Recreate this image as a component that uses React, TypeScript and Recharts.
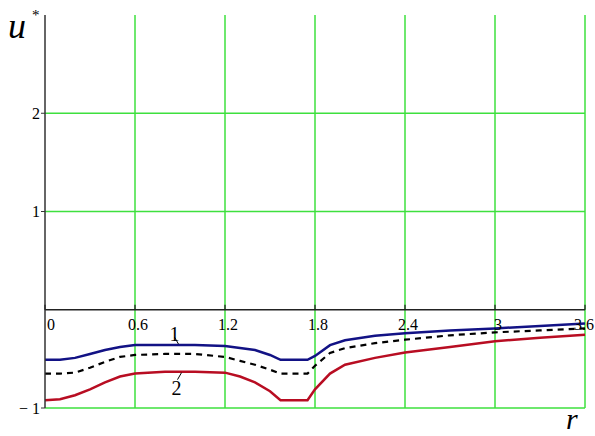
import React from 'react';
import { LineChart, Line, XAxis, YAxis, ReferenceLine, ReferenceDot } from 'recharts';

const rValues = [0, 0.1, 0.2, 0.3, 0.4, 0.5, 0.6, 0.8, 1.0, 1.2, 1.3, 1.4, 1.5, 1.57, 1.75, 1.8, 1.9, 2.0, 2.2, 2.4, 2.7, 3.0, 3.3, 3.6];
const curve1 = [-0.51, -0.51, -0.49, -0.45, -0.41, -0.38, -0.36, -0.36, -0.36, -0.37, -0.39, -0.41, -0.46, -0.51, -0.51, -0.47, -0.36, -0.31, -0.265, -0.24, -0.21, -0.19, -0.165, -0.14];
const curveMid = [-0.65, -0.65, -0.64, -0.59, -0.53, -0.48, -0.46, -0.45, -0.45, -0.48, -0.52, -0.56, -0.61, -0.65, -0.65, -0.57, -0.44, -0.39, -0.34, -0.305, -0.26, -0.23, -0.21, -0.19];
const curve2 = [-0.92, -0.91, -0.87, -0.81, -0.74, -0.68, -0.65, -0.63, -0.63, -0.64, -0.68, -0.74, -0.83, -0.92, -0.92, -0.81, -0.65, -0.56, -0.49, -0.435, -0.38, -0.32, -0.285, -0.255];

const xTicks = [0, 0.6, 1.2, 1.8, 2.4, 3, 3.6];
const xTickLabels = ['0', '0.6', '1.2', '1.8', '2.4', '3', '3.6'];
const yTicks = [-1, 1, 2];

const data = rValues.map((r, i) => ({ r, u1: curve1[i], um: curveMid[i], u2: curve2[i] }));

const serif = "'Liberation Serif', 'DejaVu Serif', 'Times New Roman', serif";
const GREEN = '#3ee03e';

export default function App() {
  const last = xTicks.length - 1;
  return (
    <div style={{ position: 'absolute', left: 0, top: 0, width: 595, height: 436, background: '#fff', overflow: 'hidden' }}>
      <LineChart width={595} height={436} data={data} margin={{ top: 15, right: 10, bottom: 28, left: 0 }}>
        <XAxis type="number" dataKey="r" domain={[0, 3.6]} ticks={xTicks} hide />
        <YAxis
          type="number"
          domain={[-1, 3]}
          ticks={yTicks}
          width={45}
          axisLine={{ stroke: '#333', strokeWidth: 1.5 }}
          tickLine={{ stroke: '#333' }}
          tickSize={4}
          tickMargin={1}
          tick={{ fill: '#000', fontFamily: serif, fontSize: 16 }}
          tickFormatter={(v: number) => (v < 0 ? '\u2212 1' : String(v))}
          allowDataOverflow
        />
        {/* green grid: horizontal at the y ticks, vertical at the r ticks (no line along the top) */}
        {yTicks.map((t) => (
          <ReferenceLine key={'h' + t} y={t} stroke={GREEN} strokeWidth={1.5} />
        ))}
        {xTicks.slice(1).map((t) => (
          <ReferenceLine key={'v' + t} x={t} stroke={GREEN} strokeWidth={1.5} />
        ))}
        <ReferenceLine y={0} stroke="#222" strokeWidth={1.3} />
        {xTicks.map((t, i) => (
          <ReferenceDot
            key={t}
            x={t}
            y={0}
            r={0}
            shape={(p: any) => (
              <g>
                <line x1={p.cx} y1={p.cy} x2={p.cx} y2={p.cy - 5} stroke="#222" strokeWidth={1.3} />
                <text
                  x={i === last ? p.cx + 9 : p.cx + (i === 0 ? 6 : 3)}
                  y={p.cy + 20}
                  textAnchor={i === last ? 'end' : 'middle'}
                  fontFamily={serif}
                  fontSize={16}
                  fill="#000"
                >
                  {xTickLabels[i]}
                </text>
              </g>
            )}
          />
        ))}
        <Line type="linear" dataKey="u1" stroke="#121285" strokeWidth={2.5} dot={false} isAnimationActive={false} />
        <Line type="linear" dataKey="um" stroke="#000" strokeWidth={2.2} strokeDasharray="6 5" dot={false} isAnimationActive={false} />
        <Line type="linear" dataKey="u2" stroke="#b80d22" strokeWidth={2.5} dot={false} isAnimationActive={false} />
        <ReferenceDot
          x={0.89}
          y={-0.36}
          r={0}
          shape={(p: any) => (
            <g>
              <line x1={p.cx} y1={p.cy - 1} x2={p.cx - 4} y2={p.cy - 8} stroke="#000" strokeWidth={1} />
              <text x={p.cx - 4} y={p.cy - 4} textAnchor="middle" fontFamily={serif} fontSize={20} fill="#000">1</text>
            </g>
          )}
        />
        <ReferenceDot
          x={0.91}
          y={-0.63}
          r={0}
          shape={(p: any) => (
            <g>
              <line x1={p.cx} y1={p.cy + 1} x2={p.cx - 4} y2={p.cy + 8} stroke="#000" strokeWidth={1} />
              <text x={p.cx - 5} y={p.cy + 23} textAnchor="middle" fontFamily={serif} fontSize={20} fill="#000">2</text>
            </g>
          )}
        />
      </LineChart>
      <div style={{ position: 'absolute', left: 8, top: 8, fontFamily: serif, fontStyle: 'italic', fontSize: 36, lineHeight: '36px' }}>u</div>
      <div style={{ position: 'absolute', left: 32, top: 8, fontFamily: serif, fontSize: 15, lineHeight: '15px' }}>*</div>
      <div style={{ position: 'absolute', left: 566, top: 404, fontFamily: serif, fontStyle: 'italic', fontSize: 30, lineHeight: '30px' }}>r</div>
    </div>
  );
}
